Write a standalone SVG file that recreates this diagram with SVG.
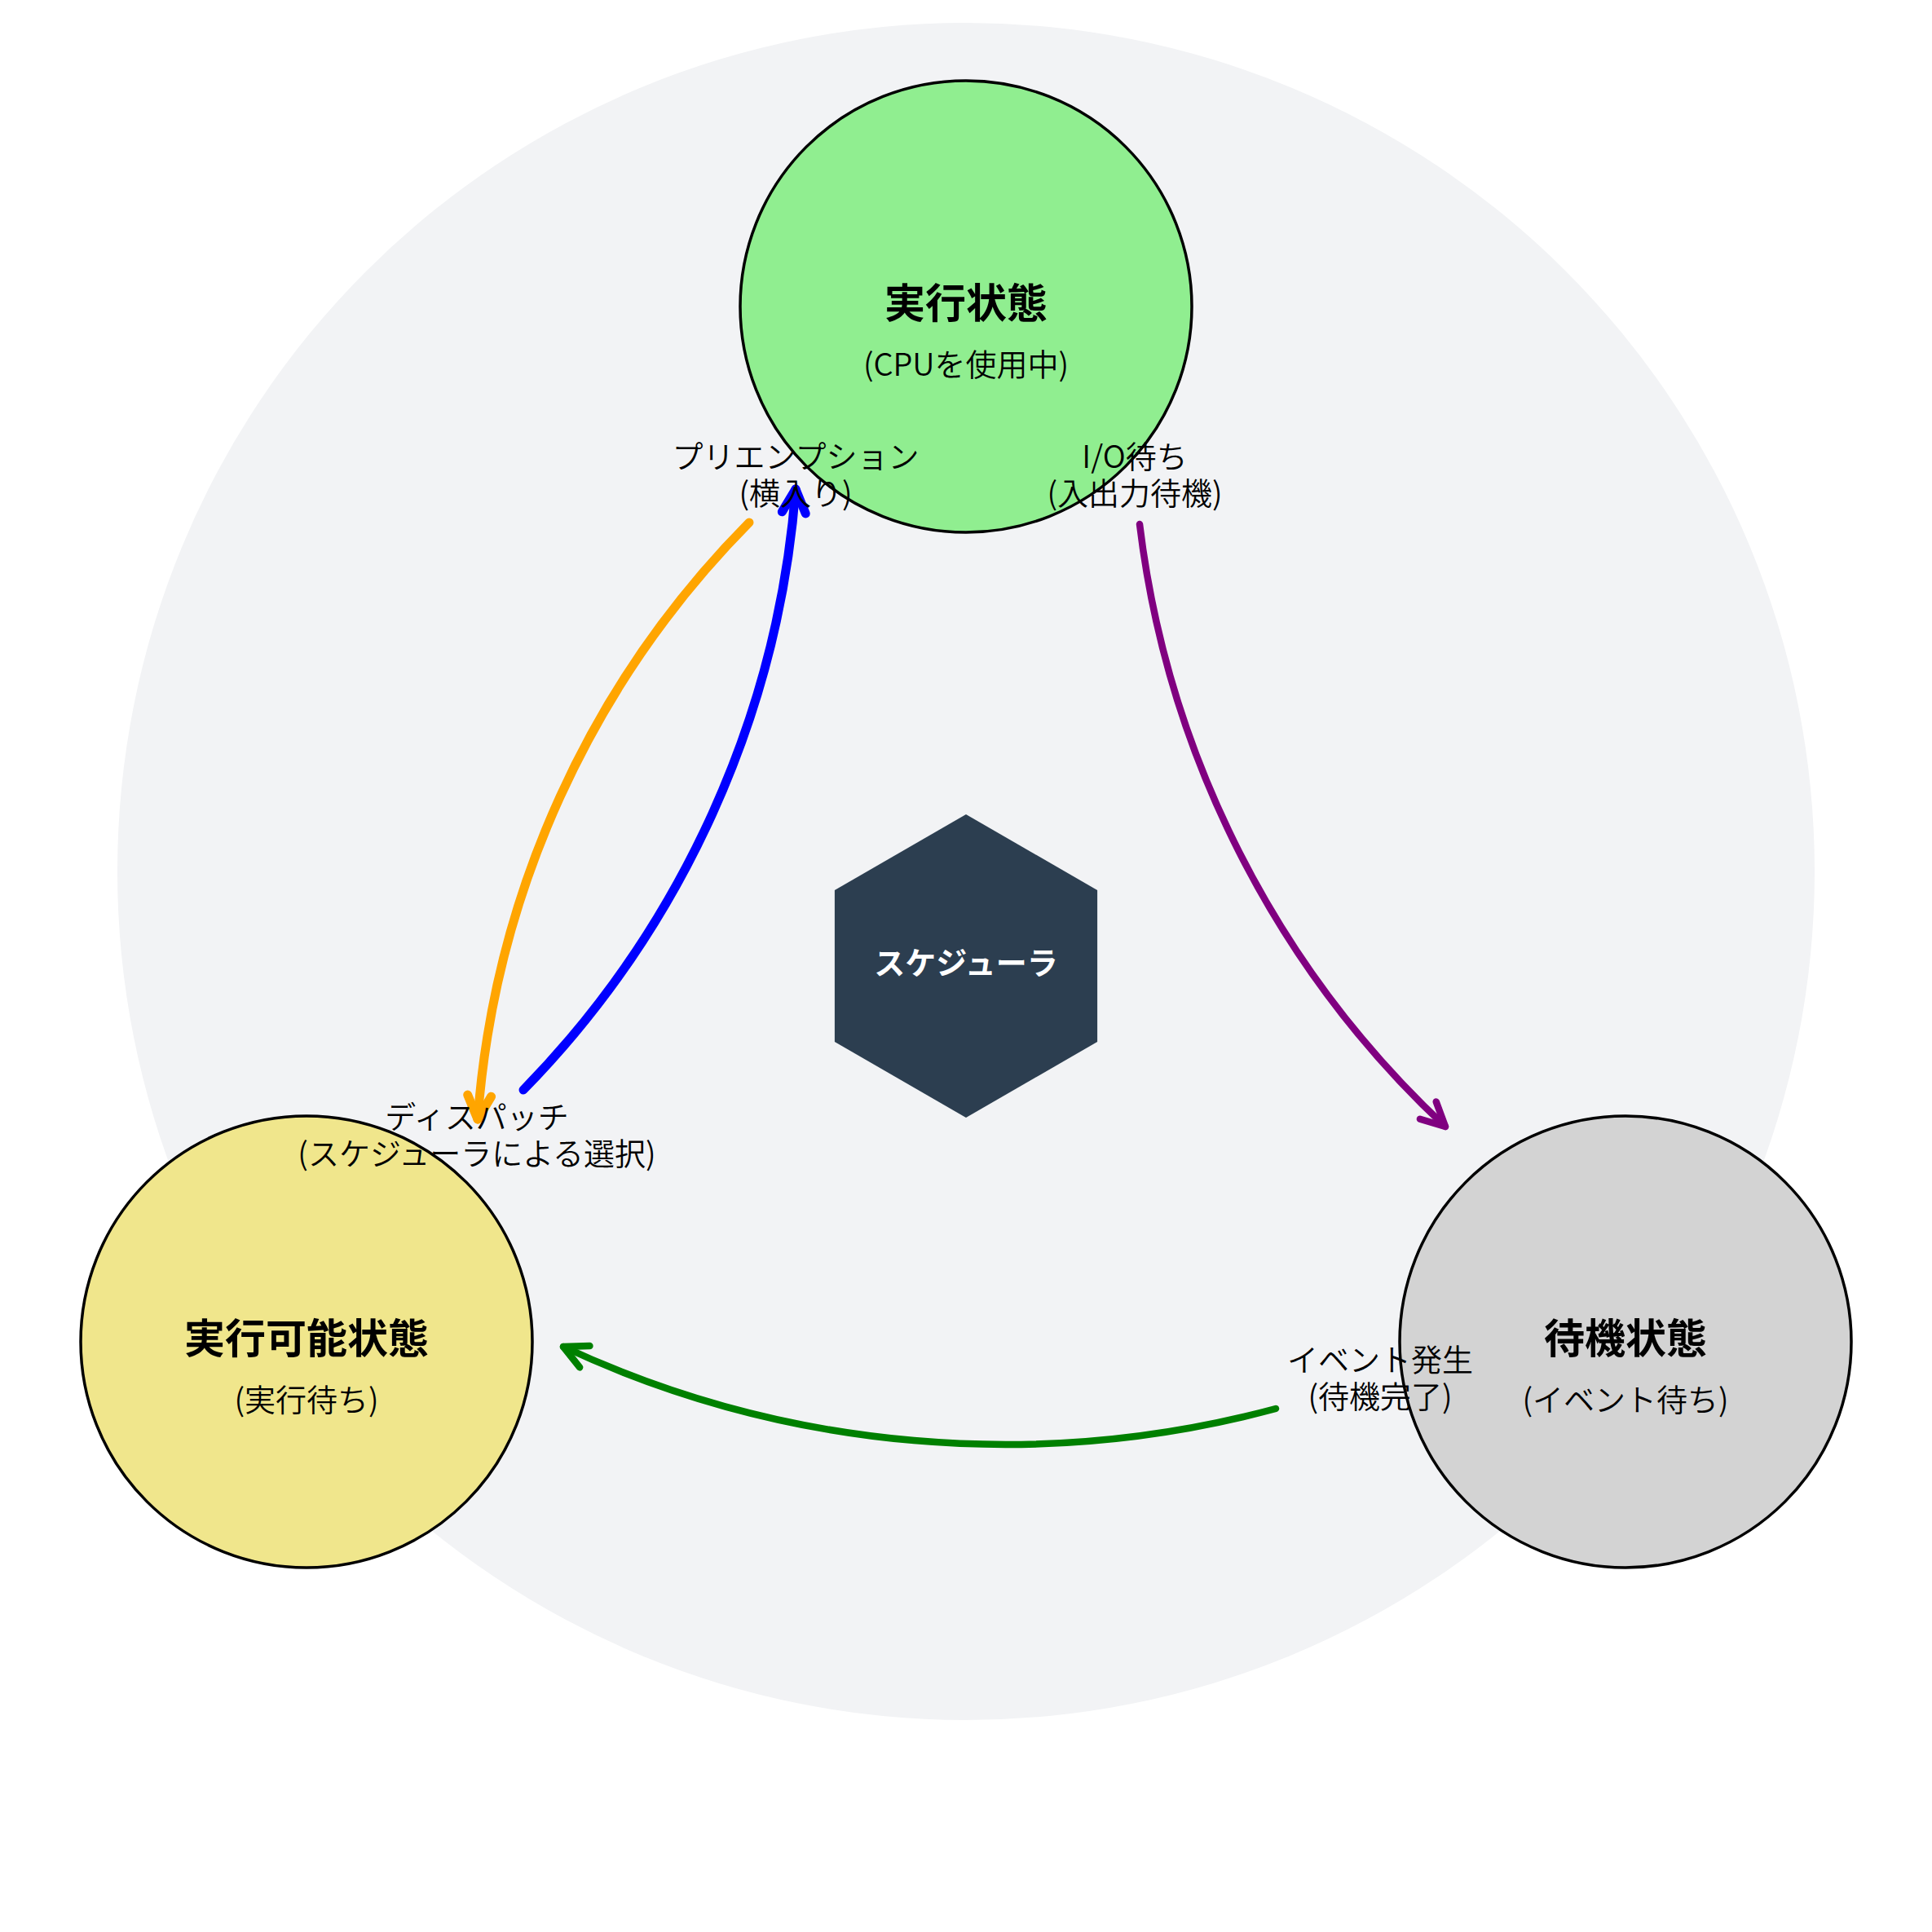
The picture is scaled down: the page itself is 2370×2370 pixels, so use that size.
<svg xmlns="http://www.w3.org/2000/svg" width="2370" height="2370" viewBox="0 0 2370 2370">
  <style>
    text { font-family: "Noto Sans CJK JP", "Noto Sans", sans-serif; fill: #000; text-anchor: middle; }
    .title { font-size: 50px; font-weight: bold; }
    .sub { font-size: 38px; font-weight: 350; }
    .lbl { font-size: 38px; font-weight: 350; }
    .hex-t { font-size: 38px; font-weight: bold; fill: #ffffff; }
    .node { stroke: #000; stroke-width: 3.5; }
    .edge { fill: none; stroke-linecap: round; }
  </style>
  <defs>
    <marker id="ah-orange" markerUnits="userSpaceOnUse" viewBox="-40 -25 50 50" markerWidth="50" markerHeight="50" refX="0" refY="0" orient="auto" overflow="visible">
      <path d="M-29,-14.5 L0,0 L-29,14.5" fill="none" stroke="#FFA500" stroke-width="11" stroke-linecap="round" stroke-linejoin="round"/>
    </marker>
    <marker id="ah-blue" markerUnits="userSpaceOnUse" viewBox="-40 -25 50 50" markerWidth="50" markerHeight="50" refX="0" refY="0" orient="auto" overflow="visible">
      <path d="M-29,-14.5 L0,0 L-29,14.5" fill="none" stroke="#0000FF" stroke-width="11" stroke-linecap="round" stroke-linejoin="round"/>
    </marker>
    <marker id="ah-purple" markerUnits="userSpaceOnUse" viewBox="-40 -25 50 50" markerWidth="50" markerHeight="50" refX="0" refY="0" orient="auto" overflow="visible">
      <path d="M-29,-14.5 L0,0 L-29,14.5" fill="none" stroke="#800080" stroke-width="8.5" stroke-linecap="round" stroke-linejoin="round"/>
    </marker>
    <marker id="ah-green" markerUnits="userSpaceOnUse" viewBox="-40 -25 50 50" markerWidth="50" markerHeight="50" refX="0" refY="0" orient="auto" overflow="visible">
      <path d="M-29,-14.5 L0,0 L-29,14.5" fill="none" stroke="#008000" stroke-width="8.5" stroke-linecap="round" stroke-linejoin="round"/>
    </marker>
  </defs>

  <rect x="0" y="0" width="2370" height="2370" fill="#ffffff"/>
  <circle id="background" cx="1185" cy="1069" r="1041" fill="#F2F3F5"/>

  <g id="node-running">
    <circle class="node" cx="1185" cy="376" r="277" fill="#90EE90"/>
    <text class="title" x="1185" y="390">実行状態</text>
    <text class="sub" x="1185" y="461">(CPUを使用中)</text>
  </g>

  <g id="node-ready">
    <circle class="node" cx="376" cy="1646" r="277" fill="#F0E68C"/>
    <text class="title" x="376" y="1660">実行可能状態</text>
    <text class="sub" x="376" y="1731">(実行待ち)</text>
  </g>

  <g id="node-waiting">
    <circle class="node" cx="1994" cy="1646" r="277" fill="#D3D3D3"/>
    <text class="title" x="1994" y="1660">待機状態</text>
    <text class="sub" x="1994" y="1731">(イベント待ち)</text>
  </g>

  <g id="node-scheduler">
    <polygon points="1185,999 1346.1,1092 1346.1,1278 1185,1371 1023.9,1278 1023.9,1092" fill="#2C3E50"/>
    <text class="hex-t" x="1185" y="1195">スケジューラ</text>
  </g>

  <g id="connectors">
    <path id="edge-preempt" class="edge" d="M919,641 A1161,1161 0 0 0 586,1373" stroke="#FFA500" stroke-width="11" marker-end="url(#ah-orange)"/>
    <path id="edge-dispatch" class="edge" d="M642,1337 A1183,1183 0 0 0 976,600" stroke="#0000FF" stroke-width="11" marker-end="url(#ah-blue)"/>
    <path id="edge-io" class="edge" d="M1398,643 A1211,1211 0 0 0 1773,1382" stroke="#800080" stroke-width="8.5" marker-end="url(#ah-purple)"/>
    <path id="edge-event" class="edge" d="M1565,1728 A1282,1282 0 0 1 691,1652" stroke="#008000" stroke-width="8.5" marker-end="url(#ah-green)"/>

    <text class="lbl" x="976" y="574">プリエンプション</text>
    <text class="lbl" x="976" y="619">(横入り)</text>
    <text class="lbl" x="1392" y="574">I/O待ち</text>
    <text class="lbl" x="1392" y="619">(入出力待機)</text>
    <text class="lbl" x="585" y="1384">ディスパッチ</text>
    <text class="lbl" x="585" y="1429">(スケジューラによる選択)</text>
    <text class="lbl" x="1693" y="1682">イベント発生</text>
    <text class="lbl" x="1693" y="1727">(待機完了)</text>
  </g>
</svg>
